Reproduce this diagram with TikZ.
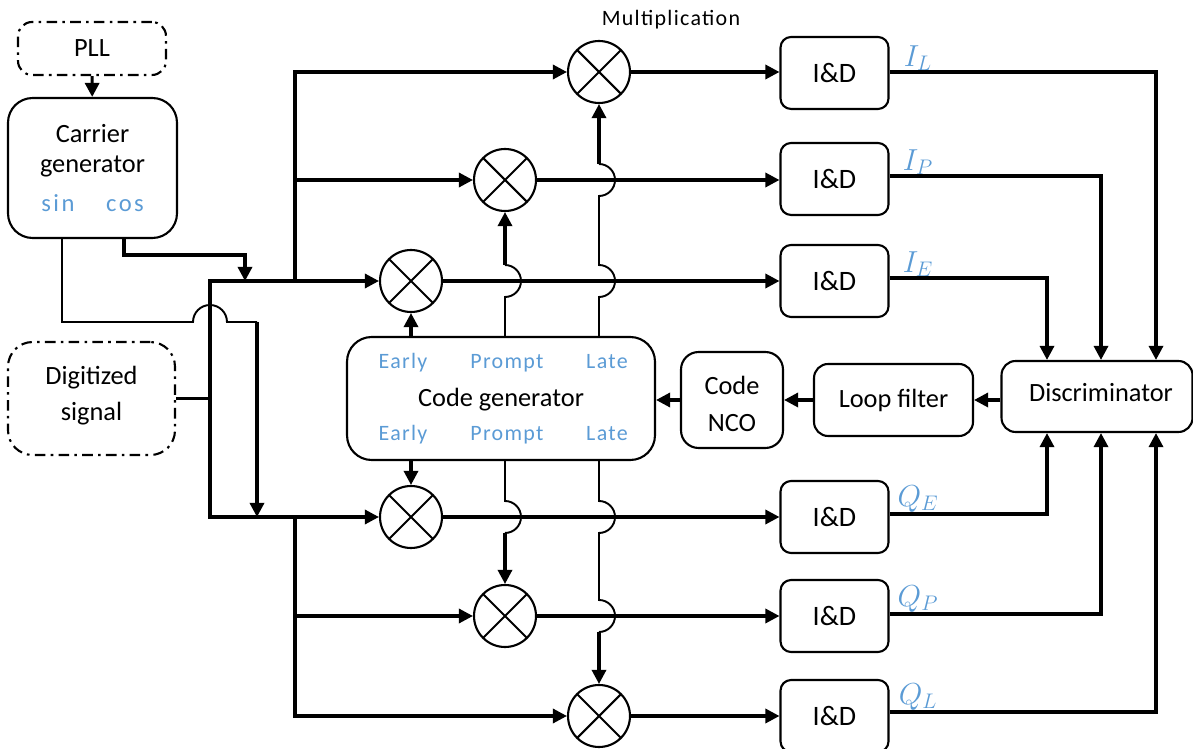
\documentclass[tikz,border=0pt]{standalone}
\usepackage{fontspec}
\setmainfont{Carlito}
\newfontfamily\spacedfont{Carlito}[LetterSpace=6]
\newfontfamily\widefont{Carlito}[LetterSpace=10]
\usetikzlibrary{arrows.meta,calc}
\definecolor{lblue}{HTML}{5B9BD5}
\begin{document}
\begin{tikzpicture}[x=0.02cm,y=-0.02cm,
  box/.style={draw,line width=1.2pt,rounded corners=6pt,inner sep=0pt},
  dd/.style={dash pattern=on 6pt off 3pt on 1.5pt off 3pt},
  txt/.style={font=\fontsize{15}{18}\selectfont,anchor=base,inner sep=0pt},
  btxt/.style={font=\spacedfont\fontsize{12.5}{16}\selectfont,text=lblue,anchor=base,inner sep=0pt},
  mlab/.style={text=lblue,font=\fontsize{17}{18}\selectfont,inner sep=0pt},
  idd/.style={box,minimum width=2.16cm,minimum height=1.44cm,font=\fontsize{16}{18}\selectfont},
  mult/.style={draw,circle,line width=1.2pt,minimum size=1.24cm,inner sep=0pt,
    path picture={\draw[line width=1.2pt] (path picture bounding box.north west)--(path picture bounding box.south east)
      (path picture bounding box.north east)--(path picture bounding box.south west);}},
  thk/.style={line width=1.8pt},
  thn/.style={line width=1.1pt},
  arr/.style={-{Triangle[length=8pt,width=8pt]}}
]
\useasboundingbox (0,0) rectangle (1193,749);

% ---------- blocks ----------
\node[box,dd,rounded corners=8pt,minimum width=2.96cm,minimum height=1.06cm,font=\fontsize{15}{18}\selectfont] (pll) at (92,48.5) {PLL};
\node[box,rounded corners=14pt,minimum width=3.38cm,minimum height=2.8cm] (carrier) at (92.5,168) {};
\node[txt] (carr1) at (92.5,143) {Carrier};
\node[txt] (carr2) at (92.5,173) {generator};
\node[btxt,font=\widefont\fontsize{14}{16}\selectfont] (sinl) at (58,212) {sin};
\node[btxt,font=\widefont\fontsize{14}{16}\selectfont] (cosl) at (125,212) {cos};

\node[box,dd,rounded corners=14pt,minimum width=3.34cm,minimum height=2.26cm] (dig) at (91.5,398.5) {};
\node[txt] (dig1) at (91.5,385) {Digitized};
\node[txt] (dig2) at (91.5,421) {signal};

\node[box,rounded corners=14pt,minimum width=6.16cm,minimum height=2.46cm] (cg) at (501,398.5) {};
\node[btxt] (e1) at (403,369) {Early};
\node[btxt] (p1) at (507,369) {Prompt};
\node[btxt] (l1) at (607,369) {Late};
\node[txt] (cgt) at (501,407) {Code generator};
\node[btxt] (e2) at (403,441) {Early};
\node[btxt] (p2) at (507,441) {Prompt};
\node[btxt] (l2) at (607,441) {Late};

\node[box,rounded corners=10pt,minimum width=2.04cm,minimum height=1.92cm] (nco) at (732,400) {};
\node[txt] (nco1) at (732,395) {Code};
\node[txt] (nco2) at (732,432) {NCO};

\node[box,rounded corners=8pt,minimum width=3.18cm,minimum height=1.44cm,font=\fontsize{15}{18}\selectfont] (loop) at (893.5,400) {Loop filter};
\node[box,rounded corners=8pt,minimum width=3.82cm,minimum height=1.42cm] (disc) at (1097,396.5) {};
\node[txt] (disct) at (1101,402) {Discriminator};

% multipliers
\node[mult] (mL) at (599,72) {};
\node[mult] (mP) at (505,180) {};
\node[mult] (mE) at (411,281) {};
\node[mult] (mQE) at (411,517) {};
\node[mult] (mQP) at (505,616) {};
\node[mult] (mQL) at (599,716) {};
\node[font=\spacedfont\fontsize{12.5}{14}\selectfont] (multl) at (671,20) {Multiplication};

% integrate & dump
\node[idd] (idL) at (834.5,73) {I\&D};
\node[idd] (idP) at (834.5,179) {I\&D};
\node[idd] (idE) at (834.5,281) {I\&D};
\node[idd] (idQE) at (834.5,517) {I\&D};
\node[idd] (idQP) at (834.5,616) {I\&D};
\node[idd] (idQL) at (834.5,716) {I\&D};

\node[mlab] (lIL) at (918,58) {$I_L$};
\node[mlab] (lIP) at (918,162) {$I_P$};
\node[mlab] (lIE) at (918,264) {$I_E$};
\node[mlab] (lQE) at (918,499) {$Q_E$};
\node[mlab] (lQP) at (918,599) {$Q_P$};
\node[mlab] (lQL) at (918,697) {$Q_L$};

% ---------- coordinates ----------
\coordinate (sinx) at (62,0);
\coordinate (cosx) at (124,0);
\coordinate (busA) at (210,281);
\coordinate (busB) at (210,517);
\coordinate (bupT) at (295,281);
\coordinate (bupB) at (295,517);
\coordinate (xE) at (411,0);
\coordinate (xP) at (505,0);
\coordinate (xL) at (599,0);
\coordinate (d1) at (1047,0);
\coordinate (d2) at (1101,0);
\coordinate (d3) at (1156,0);

% ---------- connectors ----------
\draw[thk,arr] (pll) -- (carrier);
% cos path
\draw[thk,arr] (carrier.south -| cosx) -- (124,255) -- (245,255) -- (245,281);
% sin path with jump
\draw[thn] (carrier.south -| sinx) -- (62,322) -- (193,322) arc[start angle=180,end angle=0,radius=0.34cm] -- (257,322);
\draw[thk,arr] (257,322) -- (257,517);
% digitized signal into bus
\draw[thk] (dig.east) -- (dig.east -| busA);
% main buses
\draw[thk,arr] (busB) -- (busA) -- (mE.west);
\draw[thk,arr] (busA |- mE) -- (busB) -- (mQE.west);
\draw[thk,arr] (bupT) -- (bupT |- mL) -- (mL.west);
\draw[thk,arr] (bupT |- mP) -- (mP.west);
\draw[thk,arr] (bupB) -- (bupB |- mQL) -- (mQL.west);
\draw[thk,arr] (bupB |- mQP) -- (mQP.west);

% code generator outputs (top)
\draw[thk,arr] (cg.north -| xE) -- (mE.south);
\draw[thn] (cg.north -| xP) -- (505,297) arc[start angle=-90,end angle=90,radius=0.32cm];
\draw[thk,arr] (505,265) -- (mP.south);
\draw[thn] (cg.north -| xL) -- (599,297) arc[start angle=-90,end angle=90,radius=0.32cm] -- (599,196) arc[start angle=-90,end angle=90,radius=0.32cm];
\draw[thk,arr] (599,164) -- (mL.south);
% code generator outputs (bottom)
\draw[thk,arr] (cg.south -| xE) -- (mQE.north);
\draw[thn] (cg.south -| xP) -- (505,501) arc[start angle=90,end angle=-90,radius=0.32cm];
\draw[thk,arr] (505,533) -- (mQP.north);
\draw[thn] (cg.south -| xL) -- (599,501) arc[start angle=90,end angle=-90,radius=0.32cm] -- (599,600) arc[start angle=90,end angle=-90,radius=0.32cm];
\draw[thk,arr] (599,632) -- (mQL.north);

% multipliers to I&D
\draw[thk,arr] (mL.east) -- (idL.west |- mL);
\draw[thk,arr] (mP.east) -- (idP.west |- mP);
\draw[thk,arr] (mE.east) -- (idE.west |- mE);
\draw[thk,arr] (mQE.east) -- (idQE.west |- mQE);
\draw[thk,arr] (mQP.east) -- (idQP.west |- mQP);
\draw[thk,arr] (mQL.east) -- (idQL.west |- mQL);

% I&D to discriminator
\draw[thk,arr] (idL.east |- mL) -| (d3 |- disc.north);
\draw[thk,arr] ([yshift=0.06cm]idP.east) -| (d2 |- disc.north);
\draw[thk,arr] ([yshift=0.06cm]idE.east) -| (d1 |- disc.north);
\draw[thk,arr] ([yshift=0.06cm]idQE.east) -| (d1 |- disc.south);
\draw[thk,arr] ([yshift=0.04cm]idQP.east) -| (d2 |- disc.south);
\draw[thk,arr] ([yshift=0.08cm]idQL.east) -| (d3 |- disc.south);

% feedback chain
\draw[thk,arr] (disc.west |- loop) -- (loop.east);
\draw[thk,arr] (loop.west) -- (nco.east);
\draw[thk,arr] (nco.west) -- (cg.east |- nco);
\end{tikzpicture}
\end{document}
